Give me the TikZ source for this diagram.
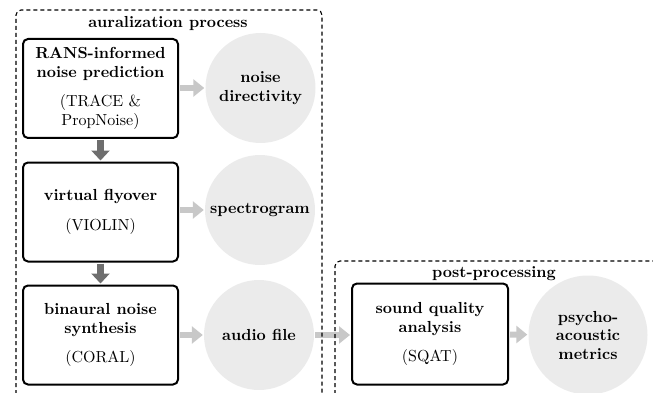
\documentclass[tikz,border=0pt]{standalone}
\usepackage{fontspec}
\setmainfont{lmroman10}[Extension=.otf, UprightFont=*-regular, BoldFont=*-bold,
  ItalicFont=*-italic, BoldItalicFont=*-bolditalic]
\usetikzlibrary{arrows.meta}
\definecolor{bubblefill}{HTML}{EBEBEB}
\definecolor{lightarrow}{HTML}{C8C8C8}
\definecolor{darkarrow}{HTML}{6E6E6E}
\begin{document}
\begin{tikzpicture}[x=1pt,y=-1pt,
  every node/.style={font=\fontsize{16}{18.5}\selectfont},
  stepbox/.style={draw=black, line width=2pt, rounded corners=5pt,
    minimum width=155pt, minimum height=99pt, align=center, inner sep=0pt,
    font=\fontsize{16}{18.5}\selectfont\bfseries},
  bubble/.style={circle, fill=bubblefill, minimum size=110pt, align=center,
    inner sep=0pt, font=\fontsize{16}{18.5}\selectfont\bfseries},
  frame/.style={line width=1.1pt, dash pattern=on 4pt off 3pt, rounded corners=5pt},
  title/.style={font=\fontsize{16}{18.5}\selectfont\bfseries},
  outarrow/.style={draw=lightarrow, line width=6pt,
    -{Triangle[width=17pt,length=11pt]}, shorten <=1pt, shorten >=1pt},
  nextarrow/.style={draw=darkarrow, line width=6.5pt,
    -{Triangle[width=18pt,length=10pt]}, shorten <=1pt, shorten >=1pt},
]
\useasboundingbox (0,0) rectangle (653,393);

% processing steps
\node[stepbox] (rans) at (100.5,88.5) {RANS-informed\\noise prediction\\[11pt]\normalfont(TRACE \&\\\normalfont PropNoise)};
\node[stepbox] (flyover) at (100.5,212) {virtual flyover\\[11pt]\normalfont(VIOLIN)};
\node[stepbox] (synth) at (100.5,335) {binaural noise\\synthesis\\[11pt]\normalfont(CORAL)};
\node[stepbox, minimum width=156pt, minimum height=101pt] (sqat) at (430,334) {sound quality\\analysis\\[11pt]\normalfont(SQAT)};

% results
\node[bubble] (directivity) at (260.5,88) {noise\\directivity};
\node[bubble] (spectro) at (260,210) {spectrogram};
\node[bubble] (audio) at (259,335) {audio file};
\node[bubble, minimum size=119pt] (metrics) at (588,335) {psycho-\\acoustic\\metrics};

% connectors
\draw[nextarrow] (rans) -- (flyover);
\draw[nextarrow] (flyover) -- (synth);
\draw[outarrow] (rans.east |- directivity) -- (directivity);
\draw[outarrow] (flyover.east |- spectro) -- (spectro);
\draw[outarrow] (synth.east |- audio) -- (audio);
\draw[outarrow] (audio) -- (sqat.west |- audio);
\draw[outarrow] (sqat) -- (metrics);

% grouping frames, open at the bottom
\draw[frame] (16,394) -- (16,10) -- (322,10) -- (322,394);
\node[title] (auraltitle) at (168,24) {auralization process};
\draw[frame] (335,394) -- (335,261) -- (665,261);
\node[title] (posttitle) at (494,274) {post-processing};
\end{tikzpicture}
\end{document}
